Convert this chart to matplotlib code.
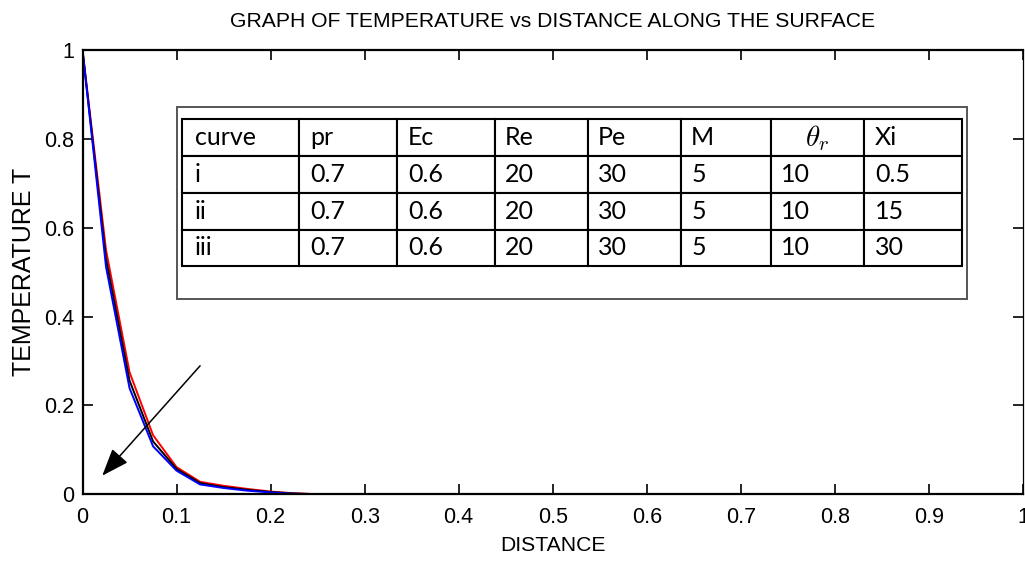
import matplotlib
matplotlib.use("Agg")
import matplotlib.pyplot as plt
import matplotlib.patches as patches
import numpy as np

# temperature profiles along the surface
distance = [0, 0.025, 0.05, 0.075, 0.1, 0.125, 0.15, 0.175, 0.2, 0.225, 0.25, 0.975, 1.0]
temp_i = [1, 0.55, 0.275, 0.133, 0.061, 0.028, 0.019, 0.012, 0.006, 0.002, 0, 0, -0.003]
temp_ii = [1, 0.53, 0.256, 0.119, 0.057, 0.025, 0.016, 0.010, 0.005, 0.0015, 0, 0, -0.004]
temp_iii = [1, 0.512, 0.239, 0.108, 0.053, 0.022, 0.014, 0.008, 0.004, 0.001, 0, 0, -0.004]

# parameter table
col_labels = ["curve", "pr", "Ec", "Re", "Pe", "M", r"$\theta_r$", "Xi"]
table_rows = [
    ["i", "0.7", "0.6", "20", "30", "5", "10", "0.5"],
    ["ii", "0.7", "0.6", "20", "30", "5", "10", "15"],
    ["iii", "0.7", "0.6", "20", "30", "5", "10", "30"],
]
col_px = [117.3, 97.7, 97.6, 93.4, 93.3, 90, 93, 98.3]

xticks = [0, 0.1, 0.2, 0.3, 0.4, 0.5, 0.6, 0.7, 0.8, 0.9, 1]
xtick_labels = ["0", "0.1", "0.2", "0.3", "0.4", "0.5", "0.6", "0.7", "0.8", "0.9", "1"]
yticks = [0, 0.2, 0.4, 0.6, 0.8, 1]
ytick_labels = ["0", "0.2", "0.4", "0.6", "0.8", "1"]

plt.rcParams["font.family"] = ["Liberation Sans", "DejaVu Sans"]
plt.rcParams["mathtext.fontset"] = "cm"

fig = plt.figure(figsize=(10.25, 5.72), dpi=100)
ax = fig.add_axes([0.0805, 0.136, 0.9175, 0.776])

ax.plot(distance, temp_i, color="red", lw=1.4)
ax.plot(distance, temp_ii, color="black", lw=1.4)
ax.plot(distance, temp_iii, color="blue", lw=1.4)

ax.set_xlim(0, 1)
ax.set_ylim(0, 1)
ax.set_xticks(xticks)
ax.set_xticklabels(xtick_labels)
ax.set_yticks(yticks)
ax.set_yticklabels(ytick_labels)
ax.tick_params(direction="in", top=True, right=True, length=7, width=1.2,
               labelsize=15.5)
ax.tick_params(axis="x", pad=9)
ax.tick_params(axis="y", pad=6)
for sp in ax.spines.values():
    sp.set_linewidth(1.6)
ax.spines["right"].set_linewidth(0.9)

ax.set_title("GRAPH OF TEMPERATURE vs DISTANCE ALONG THE SURFACE", fontsize=15.2, pad=17)
ax.set_xlabel("DISTANCE", fontsize=15.2, labelpad=6)
ax.set_ylabel("TEMPERATURE T", fontsize=18, labelpad=6)

# arrow showing the direction of increasing Xi
ax.annotate("", xy=(0.019, 0.037), xytext=(0.127, 0.294),
            arrowprops=dict(arrowstyle="-|>,head_length=0.85,head_width=0.32",
                            color="black", lw=1.1, mutation_scale=20))

# box around the parameter table
frame = patches.Rectangle((0.1006, 0.439), 0.8394, 0.433, transform=ax.transAxes,
                          facecolor="white", edgecolor="#555555", lw=1.4, zorder=3)
ax.add_patch(frame)

total = sum(col_px)
tbl = ax.table(cellText=table_rows, colLabels=col_labels, cellLoc="left", colLoc="left",
               colWidths=[w / total for w in col_px],
               bbox=[0.106, 0.5135, 0.8295, 0.331], zorder=4)
tbl.auto_set_font_size(False)
tbl.set_fontsize(18)
for (r, c), cell in tbl.get_celld().items():
    cell.set_linewidth(1.5)
    cell.set_edgecolor("black")
    cell.PAD = 0.11
    cell.set_text_props(family="Lato")
    if r == 0 and c == 6:
        cell.set_text_props(ha="center", fontsize=21)

fig.savefig("out.png", dpi=100)
